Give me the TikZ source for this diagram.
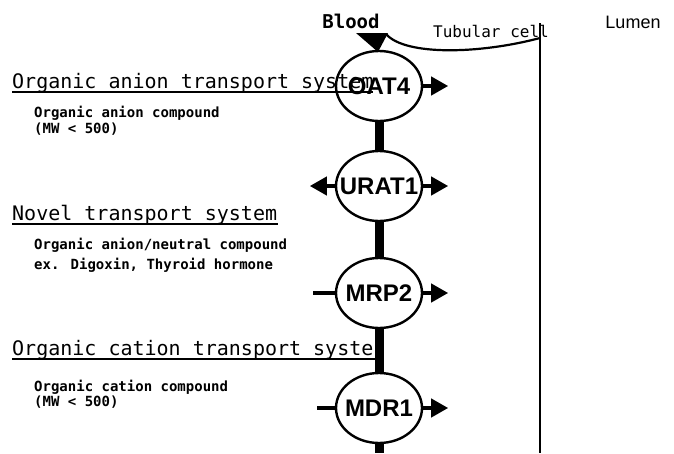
\documentclass[tikz,border=0pt]{standalone}
\usepackage{fontspec}
\setmainfont{Liberation Sans}
\newfontfamily\gothicmono{DejaVu Sans Mono}
\usetikzlibrary{arrows.meta,positioning,shapes.geometric}

\newcommand{\tlabel}[1]{\makebox[0pt]{#1}}

\tikzset{
    % transporters on the basolateral membrane
    transporter/.style={
        ellipse,
        draw,
        line width=2.4pt,
        fill=white,
        inner sep=0pt,
        minimum width=86pt,
        minimum height=70pt,
        font=\bfseries\fontsize{24}{24}\selectfont
    },
    % membranes
    bloodside/.style={line width=9pt},
    lumenside/.style={line width=2.6pt},
    cellwall/.style={line width=2.2pt},
    % transport directions
    pumparrow/.style={
        -{Triangle[length=17pt,width=18pt]},
        line width=4pt
    },
    stub/.style={line width=4pt},
    % texts
    heading/.style={
        anchor=base west,
        inner sep=0pt,
        font=\gothicmono\fontsize{20}{20}\selectfont
    },
    subtext/.style={
        anchor=base west,
        inner sep=0pt,
        font=\gothicmono\bfseries\fontsize{14}{14}\selectfont
    },
    underline/.style={line width=1.6pt},
    sidelabel/.style={
        anchor=base,
        inner sep=0pt,
        font=\gothicmono\bfseries\fontsize{19}{19}\selectfont
    }
}

\begin{document}
\begin{tikzpicture}[x=1pt,y=-1pt]
    \useasboundingbox (0,0) rectangle (674,453);

    % Side labels
    \node[sidelabel] (blood) at (351,28) {Blood};
    \node[anchor=base west,inner sep=0pt,font=\gothicmono\fontsize{16}{16}\selectfont] (tubular) at (433,37) {Tubular cell};
    \node[anchor=base,inner sep=0pt,font=\fontsize{18}{18}\selectfont] (lumen) at (633,28) {Lumen};

    % Transporters
    \node[transporter] (oat) at (379,86) {\tlabel{OAT4}};
    \node[transporter] (urat) at (379,186) {\tlabel{URAT1}};
    \node[transporter] (mrp) at (379,293) {\tlabel{MRP2}};
    \node[transporter] (mdr) at (379,408) {\tlabel{MDR1}};

    % Basolateral membrane
    \coordinate (bottom) at (379,453);
    \fill (356,33) -- (388,33) -- (378,52) -- cycle;
    \draw[bloodside] (oat.south) -- (urat.north);
    \draw[bloodside] (urat.south) -- (mrp.north);
    \draw[bloodside] (mrp.south) -- (mdr.north);
    \draw[bloodside] (mdr.south) -- (bottom);

    % Cell outline and luminal membrane
    \coordinate (lumentop) at (540,23);
    \coordinate (lumenbottom) at (540,453);
    \draw[lumenside] (lumentop) -- (lumenbottom);
    \draw[cellwall] (386,34) .. controls (405,56) and (480,54) .. (540,38);

    % Arrows
    \coordinate[right=25pt of oat.east] (oatout);
    \coordinate[right=25pt of urat.east] (uratout);
    \coordinate[left=25pt of urat.west] (uratin);
    \coordinate[right=25pt of mrp.east] (mrpout);
    \coordinate[left=22pt of mrp.west] (mrpin);
    \coordinate[right=25pt of mdr.east] (mdrout);
    \coordinate[left=18pt of mdr.west] (mdrin);
    \draw[pumparrow] (oat.east) -- (oatout);
    \draw[pumparrow] (urat.east) -- (uratout);
    \draw[pumparrow] (urat.west) -- (uratin);
    \draw[pumparrow] (mrp.east) -- (mrpout);
    \draw[stub] (mrp.west) -- (mrpin);
    \draw[pumparrow] (mdr.east) -- (mdrout);
    \draw[stub] (mdr.west) -- (mdrin);

    % Transport systems
    \node[heading] (anion) at (12,88) {Organic anion transport system};
    \draw[underline] ([yshift=-4pt]anion.base west) -- ++(361,0);
    \node[subtext] (anionsub) at (34,117) {Organic anion compound};
    \node[subtext] (anionmw) at (34,133) {(MW < 500)};

    \node[heading] (novel) at (12,220) {Novel transport system};
    \draw[underline] ([yshift=-4pt]novel.base west) -- ++(266,0);
    \node[subtext] (novelsub) at (34,249) {Organic anion/neutral compound};
    \node[subtext] (novelex) at (34,269) {ex. Digoxin, Thyroid hormone};

    \node[heading] (cation) at (12,355) {Organic cation transport syste};
    \draw[underline] ([yshift=-4pt]cation.base west) -- ++(363,0);
    \node[subtext] (cationsub) at (34,391) {Organic cation compound};
    \node[subtext] (cationmw) at (34,406) {(MW < 500)};
\end{tikzpicture}
\end{document}
